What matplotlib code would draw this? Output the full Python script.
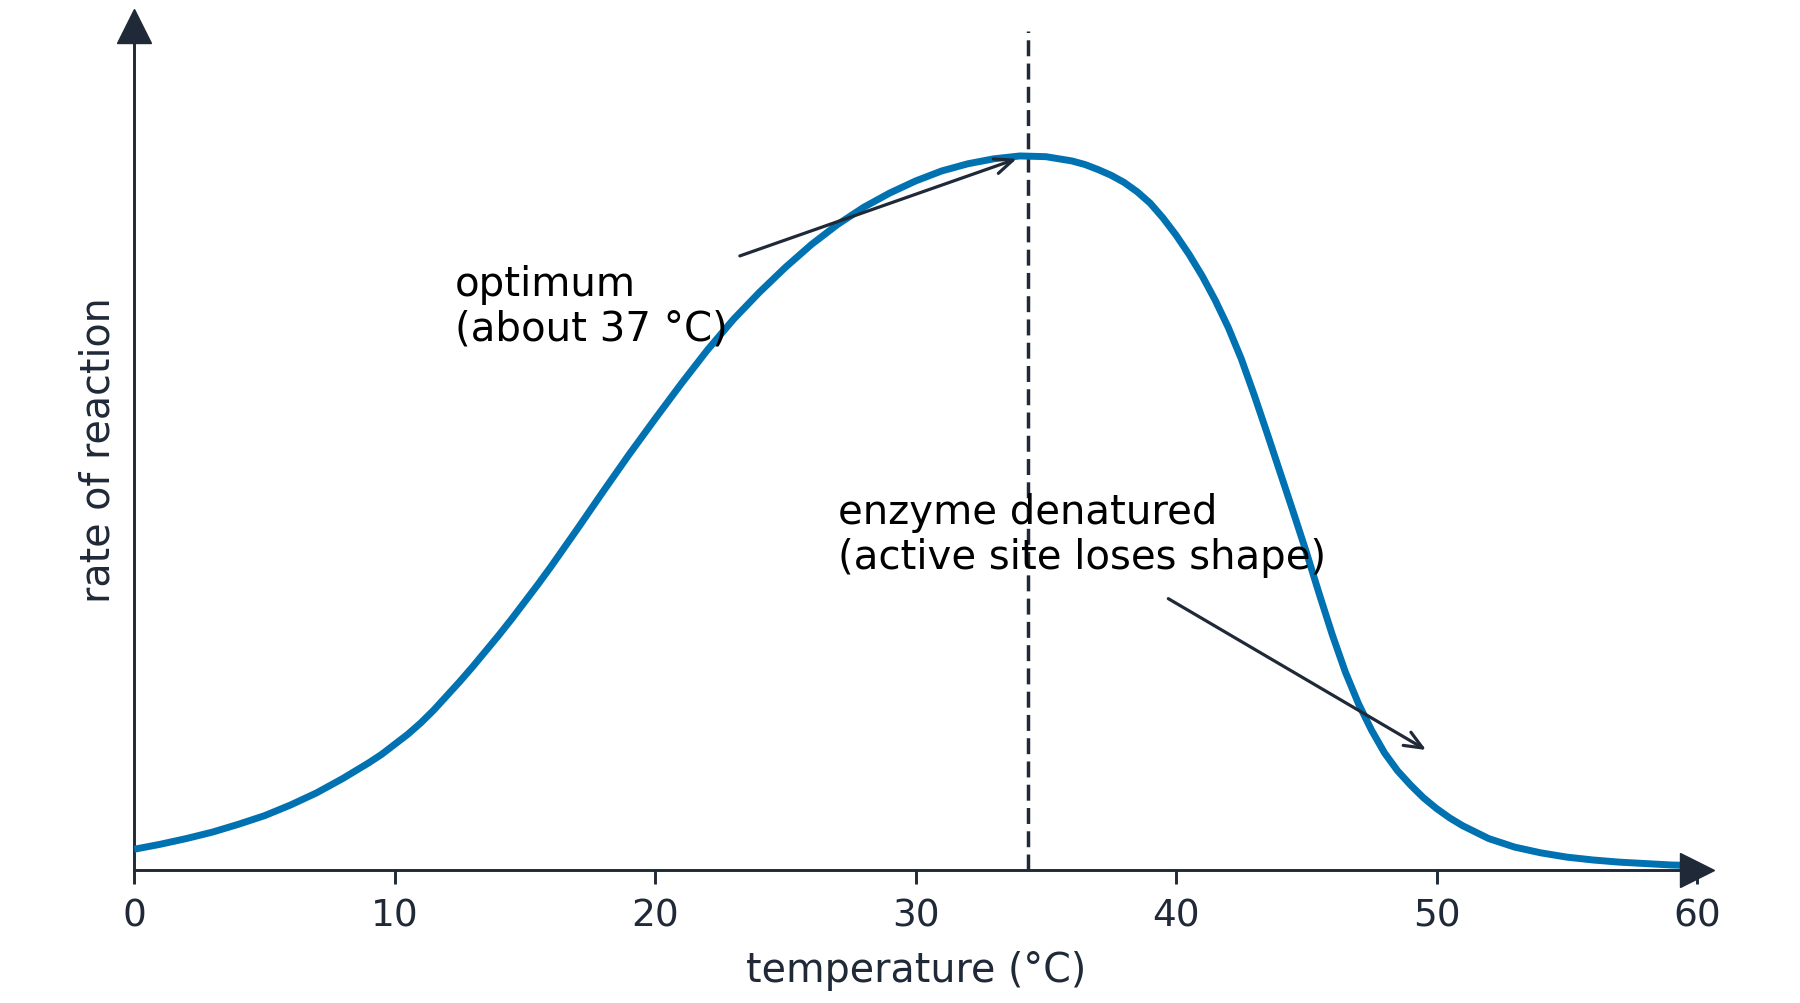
import matplotlib
matplotlib.use("Agg")
import matplotlib.pyplot as plt

# ---- data ----
temperature = [0, 1, 2, 3, 4, 5, 6, 7,
               8, 8.5, 9, 9.5, 10, 10.5, 11, 11.5, 12, 12.5, 13, 13.5, 14, 14.5, 15, 15.5,
               16, 17, 18, 19, 20, 21, 22, 23, 24, 25, 26, 27, 28, 29, 30, 31, 32, 33,
               34, 35,
               36, 36.5, 37, 37.5, 38, 38.5, 39, 39.5, 40, 40.5, 41, 41.5, 42, 42.5, 43,
               43.5, 44, 44.5, 45, 45.5, 46, 46.5, 47, 47.5, 48, 48.5, 49, 49.5, 50, 50.5,
               51, 52, 53, 54, 55, 56, 57, 58, 59, 60]
rate = [2.9, 3.6, 4.4, 5.3, 6.4, 7.6, 9.1, 10.8,
        12.8, 13.9, 15.0, 16.2, 17.6, 19.0, 20.6, 22.4, 24.4, 26.4, 28.5, 30.7, 32.9,
        35.2, 37.6, 40.0,
        42.5, 47.7, 53.0, 58.2, 63.2, 68.1, 72.8, 77.1, 80.9, 84.4, 87.6, 90.4, 92.8,
        94.8, 96.5, 97.9, 98.9, 99.6, 100.0, 99.9,
        99.3, 98.8, 98.1, 97.3, 96.3, 95.0, 93.4, 91.3, 88.9, 86.2, 83.2, 79.8, 76.0,
        71.6, 66.5, 61.1, 55.6, 50.1, 44.5, 38.6, 32.9, 27.7, 23.3, 19.6, 16.4, 13.9,
        11.9, 10.1, 8.6, 7.3,
        6.2, 4.4, 3.2, 2.4, 1.8, 1.4, 1.1, 0.9, 0.7, 0.6]
x_ticks = [0, 10, 20, 30, 40, 50, 60]
optimum_x = 34.3
x_label = "temperature (°C)"
y_label = "rate of reaction"
note_optimum = "optimum\n(about 37 °C)"
note_denatured = "enzyme denatured\n(active site loses shape)"

DARK = "#1f2937"
BLUE = "#0072b2"

fig = plt.figure(figsize=(18, 10.04), dpi=100)
ax = fig.add_axes([0.0746, 0.1325, 0.8682, 0.8406])
ax.set_xlim(0, 60)
ax.set_ylim(0, 118.2)

for s in ("top", "right"):
    ax.spines[s].set_visible(False)
for s in ("left", "bottom"):
    ax.spines[s].set_color(DARK)
    ax.spines[s].set_linewidth(2.1)

ax.plot(temperature, rate, color=BLUE, lw=5.0, solid_capstyle="butt",
        solid_joinstyle="round", zorder=3)
ax.axvline(optimum_x, ymax=0.994, color=DARK, lw=2.5, dashes=(4.6, 2.1), zorder=2)

# axis arrow heads
ax.plot([60], [0], marker=">", markersize=24.5, color=DARK, clip_on=False, zorder=5)
ax.plot([0], [1], marker="^", markersize=24.5, color=DARK, clip_on=False,
        transform=ax.get_xaxis_transform(), zorder=5)

ax.set_xticks(x_ticks)
ax.set_xticklabels([str(t) for t in x_ticks])
ax.set_yticks([])
ax.tick_params(axis="x", direction="out", length=10, width=2.1, color=DARK,
               labelcolor=DARK, labelsize=27, pad=10)

ax.set_xlabel(x_label, fontsize=28.5, color=DARK, labelpad=12)
ax.set_ylabel(y_label, fontsize=28.5, color=DARK)
ax.yaxis.label.set_va("center")
ax.yaxis.set_label_coords(-0.0226, 0.499)

ax.text(12.3, 84.8, note_optimum, fontsize=29, color="black", ha="left", va="top",
        linespacing=1.12, zorder=4)
ax.text(27.0, 52.9, note_denatured, fontsize=29, color="black", ha="left", va="top",
        linespacing=1.16, zorder=4)

arrow_kw = dict(arrowstyle="->,head_length=1.3,head_width=0.55", color=DARK, lw=2.3,
                shrinkA=0, shrinkB=0)
ax.annotate("", xy=(33.88, 99.6), xytext=(23.25, 86.0), arrowprops=arrow_kw, zorder=4)
ax.annotate("", xy=(49.6, 16.8), xytext=(39.7, 38.0), arrowprops=arrow_kw, zorder=4)

fig.savefig("out.png", dpi=100)
